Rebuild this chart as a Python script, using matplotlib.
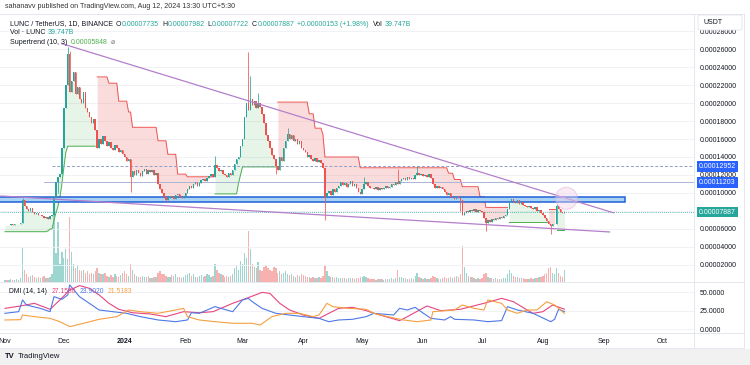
import matplotlib
matplotlib.use("Agg")
import matplotlib.pyplot as plt
import matplotlib.dates as mdates
from matplotlib.patches import Rectangle, Ellipse, FancyBboxPatch
from matplotlib.lines import Line2D
from matplotlib.transforms import blended_transform_factory
import numpy as np
import pandas as pd

plt.rcParams['font.family'] = ['Liberation Sans', 'DejaVu Sans']

# prices are written in micro-USDT (x 1e-6)
SCALE = 1e-6
start_date = '2023-11-01'
first_open = 64.0

closes = [
    # Nov 2023
    64.5, 64.0, 64.8, 65.2, 64.6, 65.5, 66.0, 65.4, 66.8, 92.0,
    85.0, 82.0, 80.0, 83.0, 79.0, 77.0, 78.0, 75.0, 76.0, 74.0,
    72.0, 73.0, 71.0, 74.0, 76.0, 96.0, 112.0, 118.0, 121.0, 150.0,
    # Dec
    195, 220, 255, 212, 225, 235, 210, 218, 205, 200,
    212, 195, 190, 185, 178, 182, 170, 150, 160, 155,
    163, 158, 152, 157, 150, 148, 153, 150, 146, 148,
    143,
    # Jan 2024
    140, 136, 138, 118, 124, 120, 126, 122, 119, 124,
    127, 121, 126, 123, 125, 120, 122, 110, 104, 100,
    96, 92, 94, 97, 95, 93, 98, 99, 96, 94,
    95,
    # Feb
    100, 104, 108, 105, 110, 112, 108, 111, 114, 116,
    113, 117, 119, 121, 118, 131, 128, 124, 126, 121,
    120, 118, 122, 120, 125, 132, 138, 140, 152,
    # Mar
    160, 185, 200, 192, 205, 198, 202, 195, 200, 196,
    188, 178, 165, 158, 150, 142, 138, 130, 126, 140,
    136, 150, 158, 166, 160, 164, 158, 160, 155, 158,
    150,
    # Apr
    148, 145, 140, 142, 138, 136, 139, 134, 137, 133,
    128, 96, 100, 102, 98, 104, 101, 106, 108, 112,
    109, 111, 107, 110, 113, 108, 110, 106, 101, 99,
    # May
    104, 110, 112, 108, 106, 105, 104, 107, 103, 105,
    104, 106, 108, 105, 107, 110, 109, 112, 110, 113,
    115, 117, 114, 118, 116, 117, 115, 120, 122, 120,
    121,
    # Jun
    119, 120, 118, 121, 117, 110, 106, 108, 105, 107,
    104, 101, 98, 100, 95, 96, 93, 97, 94, 92,
    76, 78, 80, 79, 81, 80, 82, 79, 81, 80,
    # Jul
    79, 72, 67, 70, 68, 71, 70, 72, 71, 73,
    72, 74, 76, 82, 90, 93, 91, 89, 92, 88,
    90, 87, 86, 84, 86, 83, 82, 84, 80, 81,
    78,
    # Aug
    76, 72, 69, 66, 63, 65, 66, 86, 82, 79, 77.35, 78.87,
]

# daily volume, billions of LUNC
volumes = [
    8, 6, 7, 9, 6, 8, 10, 7, 12, 115,
    40, 25, 18, 20, 22, 15, 14, 18, 12, 15,
    20, 14, 12, 18, 25, 225, 95, 200, 60, 100,
    80, 110, 75, 215, 100, 60, 45, 55, 40, 35,
    40, 30, 35, 28, 30, 25, 35, 45, 30, 28,
    25, 30, 20, 18, 22, 15, 25, 20, 18, 22, 30,
    35, 25, 20, 60, 40, 25, 20, 18, 15, 20,
    18, 15, 20, 14, 12, 15, 18, 30, 35, 28,
    25, 20, 15, 18, 22, 20, 25, 18, 15, 14, 16,
    22, 25, 30, 20, 25, 18, 15, 20, 22, 18,
    20, 25, 22, 18, 20, 60, 40, 30, 25, 22,
    18, 20, 15, 20, 25, 45, 55, 40, 70,
    60, 95, 80, 170, 110, 60, 50, 45, 65, 40,
    35, 50, 55, 45, 40, 38, 50, 45, 30, 35,
    28, 30, 35, 28, 22, 25, 20, 18, 22, 20, 25,
    22, 20, 18, 15, 14, 16, 12, 14, 15, 13,
    20, 55, 35, 20, 18, 15, 14, 16, 12, 14,
    12, 13, 11, 12, 14, 12, 10, 12, 14, 15,
    16, 20, 15, 12, 10, 9, 10, 8, 9, 10,
    9, 8, 10, 9, 11, 12, 10, 14, 40, 18,
    15, 12, 14, 10, 11, 12, 10, 20, 30, 15, 12,
    10, 12, 10, 9, 12, 20, 15, 12, 10, 11,
    12, 15, 14, 12, 18, 14, 16, 20, 15, 25,
    118, 50, 30, 20, 15, 18, 12, 10, 12, 10,
    12, 25, 30, 18, 14, 12, 10, 12, 9, 10,
    11, 12, 14, 25, 40, 30, 20, 18, 15, 14,
    12, 14, 11, 10, 9, 12, 10, 14, 12, 15, 18,
    20, 25, 30, 45, 50, 30, 25, 45, 30, 20, 18, 39.747,
]

wick_high = {
    '2023-11-10': 94, '2023-12-03': 262, '2023-12-04': 258,
    '2024-02-16': 141, '2024-03-04': 257, '2024-03-05': 230,
    '2024-03-09': 211, '2024-03-24': 172, '2024-05-02': 118,
    '2024-05-19': 127, '2024-05-29': 130, '2024-08-08': 88,
    '2024-08-12': 79.82,
}
wick_low = {
    '2023-11-28': 100, '2024-01-04': 101, '2024-01-22': 90,
    '2024-03-18': 121, '2024-04-12': 70, '2024-06-20': 80,
    '2024-07-03': 58, '2024-08-05': 54, '2024-08-12': 77.22,
}

# Supertrend (10, 3) read as runs: (direction, level, days)
st_runs = [
    ('up', 57.0, 22), ('up', 58.0, 1), ('up', 60.0, 2), ('up', 70.0, 1),
    ('up', 78.0, 1), ('up', 85.0, 1), ('up', 95.0, 1), ('up', 110.0, 1),
    ('up', 128.0, 1), ('up', 145.0, 1), ('up', 152.0, 15),
    ('down', 229.0, 6), ('down', 222.0, 5), ('down', 202.0, 5),
    ('down', 190.0, 2), ('down', 173.0, 13), ('down', 158.0, 5),
    ('down', 143.0, 5), ('down', 121.0, 5), ('down', 118.0, 14),
    ('up', 99.0, 12), ('up', 111.0, 1), ('up', 120.0, 1), ('up', 129.0, 18),
    ('down', 201.0, 16), ('down', 188.0, 3), ('down', 172.0, 4),
    ('down', 165.0, 1), ('down', 140.0, 18), ('down', 128.0, 45),
    ('down', 122.0, 3), ('down', 115.0, 4), ('down', 107.0, 9),
    ('down', 96.0, 3), ('down', 84.0, 12),
    ('up', 68.0, 20),
    ('down', 82.0, 4),
    ('up', 58.48, 5),
]

# DMI (14, 14)
adx_points = [
    ('2023-11-01', 28.3), ('2023-11-09', 31.5), ('2023-11-16', 35.1),
    ('2023-11-24', 27.0), ('2023-11-29', 39.6), ('2023-12-04', 53.1),
    ('2023-12-09', 59.0), ('2023-12-14', 55.4), ('2023-12-19', 46.4),
    ('2023-12-24', 35.1), ('2023-12-29', 27.0), ('2024-01-05', 22.4),
    ('2024-01-14', 20.7), ('2024-01-22', 17.1), ('2024-01-31', 23.8),
    ('2024-02-08', 22.4), ('2024-02-15', 23.8), ('2024-02-25', 35.1),
    ('2024-03-03', 41.8), ('2024-03-11', 49.9), ('2024-03-15', 48.5),
    ('2024-03-20', 35.1), ('2024-03-25', 26.1), ('2024-04-01', 19.3),
    ('2024-04-09', 14.8), ('2024-04-14', 21.6), ('2024-04-19', 28.3),
    ('2024-04-26', 29.7), ('2024-05-03', 25.2), ('2024-05-07', 21.6),
    ('2024-05-16', 14.8), ('2024-05-20', 11.7), ('2024-05-24', 17.1),
    ('2024-06-03', 31.5), ('2024-06-10', 25.2), ('2024-06-20', 27.0),
    ('2024-07-02', 35.1), ('2024-07-11', 41.8), ('2024-07-17', 37.3),
    ('2024-07-24', 26.1), ('2024-07-27', 21.6), ('2024-08-01', 23.8),
    ('2024-08-06', 32.8), ('2024-08-12', 27.158),
]
plus_di_points = [
    ('2023-11-01', 21.6), ('2023-11-08', 23.8), ('2023-11-10', 39.6),
    ('2023-11-12', 32.8), ('2023-11-19', 28.3), ('2023-11-24', 23.8),
    ('2023-11-26', 44.1), ('2023-11-30', 40.5), ('2023-12-03', 46.4),
    ('2023-12-04', 59.9), ('2023-12-09', 44.1), ('2023-12-14', 35.1),
    ('2023-12-19', 26.1), ('2023-12-26', 23.8), ('2024-01-02', 21.6),
    ('2024-01-09', 17.1), ('2024-01-18', 12.6), ('2024-01-27', 10.3),
    ('2024-02-02', 12.6), ('2024-02-04', 22.4), ('2024-02-08', 21.6),
    ('2024-02-16', 30.6), ('2024-02-25', 23.8), ('2024-03-01', 39.6),
    ('2024-03-04', 41.8), ('2024-03-06', 37.3), ('2024-03-11', 28.3),
    ('2024-03-18', 21.6), ('2024-03-25', 19.3), ('2024-04-01', 17.1),
    ('2024-04-09', 14.8), ('2024-04-14', 10.3), ('2024-04-19', 12.6),
    ('2024-04-26', 13.5), ('2024-05-03', 17.1), ('2024-05-07', 21.6),
    ('2024-05-17', 19.3), ('2024-05-20', 28.3), ('2024-05-24', 26.1),
    ('2024-05-28', 29.7), ('2024-05-31', 23.8), ('2024-06-05', 14.8),
    ('2024-06-12', 12.6), ('2024-06-15', 17.1), ('2024-06-17', 13.5),
    ('2024-06-27', 12.6), ('2024-07-04', 10.3), ('2024-07-11', 11.7),
    ('2024-07-14', 30.6), ('2024-07-19', 26.1), ('2024-07-27', 21.6),
    ('2024-08-05', 10.3), ('2024-08-07', 13.5), ('2024-08-09', 27.0),
    ('2024-08-12', 23.902),
]
minus_di_points = [
    ('2023-11-01', 12.6), ('2023-11-09', 13.0), ('2023-11-10', 19.3),
    ('2023-11-16', 17.1), ('2023-11-24', 14.8), ('2023-11-29', 10.3),
    ('2023-12-04', 3.6), ('2023-12-11', 8.1), ('2023-12-19', 13.5),
    ('2023-12-28', 17.1), ('2024-01-03', 26.1), ('2024-01-09', 23.8),
    ('2024-01-18', 21.6), ('2024-01-27', 26.1), ('2024-01-31', 28.3),
    ('2024-02-02', 17.1), ('2024-02-08', 12.6), ('2024-02-16', 10.3),
    ('2024-02-25', 8.1), ('2024-03-06', 8.1), ('2024-03-10', 5.8),
    ('2024-03-16', 17.1), ('2024-03-23', 21.6), ('2024-03-30', 21.6),
    ('2024-04-06', 17.1), ('2024-04-09', 19.3), ('2024-04-13', 35.1),
    ('2024-04-16', 30.6), ('2024-04-24', 28.3), ('2024-05-03', 27.0),
    ('2024-05-07', 21.6), ('2024-05-14', 17.1), ('2024-05-22', 12.6),
    ('2024-05-29', 10.3), ('2024-06-05', 12.6), ('2024-06-06', 23.8),
    ('2024-06-17', 26.1), ('2024-06-21', 32.8), ('2024-06-27', 28.3),
    ('2024-07-02', 26.1), ('2024-07-04', 39.6), ('2024-07-11', 35.1),
    ('2024-07-14', 26.1), ('2024-07-19', 21.6), ('2024-07-24', 26.1),
    ('2024-07-29', 26.1), ('2024-08-03', 37.3), ('2024-08-07', 32.8),
    ('2024-08-12', 21.518),
]

month_ticks = ['2023-11-01', '2023-12-01', '2024-01-01', '2024-02-01', '2024-03-01',
               '2024-04-01', '2024-05-01', '2024-06-01', '2024-07-01', '2024-08-01',
               '2024-09-01', '2024-10-01']
month_labels = ['Nov', 'Dec', '2024', 'Feb', 'Mar', 'Apr', 'May', 'Jun', 'Jul', 'Aug', 'Sep', 'Oct']
price_ticks = [20, 40, 60, 80, 100, 120, 140, 160, 180, 200, 220, 240, 260, 280]
dmi_ticks = [0, 25, 50]

# drawings on the chart
level_dashed = 129.52
level_solid = 112.03
last_price = 78.87
zone_low, zone_high = 90.0, 95.6
upper_trend = [('2023-11-30', 266.0), ('2024-09-06', 78.0)]
lower_trend = [('2023-10-30', 96.7), ('2024-09-04', 56.7)]

UP, DOWN = '#26a69a', '#ef5350'
DARK = '#131722'
GRID = '#eef0f4'
BORDER = '#e0e3eb'
ADX_C, PDI_C, MDI_C = '#e8457f', '#4f78e6', '#f4a041'

W, H = 750, 365
fig = plt.figure(figsize=(W / 100, H / 100), dpi=100)
fig.patch.set_facecolor('white')
renderer = fig.canvas.get_renderer()


def rect(x0, y0, x1, y1):
    return [x0 / W, 1 - y1 / H, (x1 - x0) / W, (y1 - y0) / H]


def fx(x):
    return x / W


def fy(y):
    return 1 - y / H


def dnum(s):
    return mdates.date2num(pd.Timestamp(s))


def write_row(x, y, pieces, size):
    # place coloured pieces one after another, measuring each one
    for txt, col, gap in pieces:
        t = fig.text(fx(x), fy(y), txt, fontsize=size, color=col, va='center')
        x += t.get_window_extent(renderer=renderer).width + gap


ax_v = fig.add_axes(rect(0, 14, 694, 282))
ax_p = fig.add_axes(rect(0, 14, 694, 282), sharex=ax_v)
ax_d = fig.add_axes(rect(0, 282, 694, 333), sharex=ax_v)
ax_p.patch.set_visible(False)
ax_v.patch.set_visible(False)

dates = pd.date_range(start_date, periods=len(closes), freq='D')
xs = mdates.date2num(dates)
t0 = dnum(start_date)
ax_v.set_xlim(t0 - 2.5, t0 + 351.0)

c = np.array(closes, dtype=float)
o = np.array([first_open] + closes[:-1], dtype=float)
hi = np.maximum(o, c)
lo = np.minimum(o, c)
for d, v in wick_high.items():
    hi[(pd.Timestamp(d) - dates[0]).days] = v
for d, v in wick_low.items():
    lo[(pd.Timestamp(d) - dates[0]).days] = v
up = c >= o
colors = np.where(up, UP, DOWN)

# volume (overlay at bottom of price pane)
ax_v.bar(xs, volumes, width=0.7, color=colors, alpha=0.45, linewidth=0)
ax_v.set_ylim(0, 890)
ax_v.axis('off')

# grid
for t in price_ticks:
    ax_p.axhline(t, color=GRID, lw=0.6, zorder=0)
for t in dmi_ticks:
    ax_d.axhline(t, color=GRID, lw=0.6, zorder=0)

# supertrend
st_val = np.repeat([r[1] for r in st_runs], [r[2] for r in st_runs])
st_up = np.repeat([r[0] == 'up' for r in st_runs], [r[2] for r in st_runs])
mid = (o + c) / 2
cuts = [0] + list(np.flatnonzero(np.diff(st_up.astype(int))) + 1) + [len(c)]
for a, b in zip(cuts[:-1], cuts[1:]):
    if st_up[a]:
        col, alp = '#4caf50', 0.13
    else:
        col, alp = '#ef5350', 0.2
    ax_p.fill_between(xs[a:b], st_val[a:b], mid[a:b], color=col, alpha=alp, linewidth=0, zorder=1)
    ax_p.plot(xs[a:b], st_val[a:b], color=col, lw=0.7, zorder=2)

# horizontal levels and zone
xr = t0 + 400
ax_p.plot([dnum('2023-11-25'), xr], [level_dashed] * 2, color='#8ea0c6', lw=0.7, dashes=(3, 2), zorder=2)
ax_p.plot([dnum('2023-11-21'), xr], [level_solid] * 2, color='#a9b5d5', lw=0.7, zorder=2)
ax_p.plot([t0 - 10, xr], [last_price] * 2, color=UP, lw=0.6, dashes=(1, 1.5), zorder=2)
ax_p.add_patch(Rectangle((t0 - 40, zone_low), dnum('2024-09-12') - (t0 - 40), zone_high - zone_low,
                         facecolor='#a9d3f5', edgecolor='#2160d8', lw=1.1, zorder=3))

# candles
ax_p.vlines(xs, lo, hi, colors=colors, lw=0.55, zorder=4)
ax_p.bar(xs, np.maximum(np.abs(c - o), 0.6), bottom=np.minimum(o, c), width=0.75,
         color=colors, linewidth=0, zorder=5)

# trend lines and circle
for pts in (upper_trend, lower_trend):
    ax_p.plot([dnum(pts[0][0]), dnum(pts[1][0])], [pts[0][1], pts[1][1]],
              color='#b47fcb', lw=0.9, zorder=6)
ax_p.add_patch(Ellipse((dnum('2024-08-13'), 94.1), 11.2, 24.4, facecolor='#f1d3ec',
                       edgecolor='#d9a3d3', lw=0.7, alpha=0.45, zorder=6))

ax_p.set_ylim(1.1, 298.9)
ax_p.yaxis.tick_right()
ax_p.set_yticks(price_ticks)
ax_p.set_yticklabels([f"{t * SCALE:.8f}" for t in price_ticks])
ax_p.tick_params(axis='y', length=0, pad=4.3, labelsize=5, labelcolor=DARK)
ax_p.tick_params(axis='x', length=0, labelbottom=False)
for s in ax_p.spines.values():
    s.set_visible(False)

# right-axis price labels
tr = blended_transform_factory(ax_p.transAxes, ax_p.transData)
for val, bg in ((level_dashed, '#2962ff'), (level_solid, '#2962ff'), (last_price, UP)):
    ax_p.text(1.0075, val, f"{val * SCALE:.8f}", transform=tr, fontsize=5, color='white',
              va='center', ha='left', clip_on=False, zorder=10,
              bbox=dict(boxstyle='square,pad=0.28', fc=bg, ec='none'))

# DMI pane
ax_d.plot([dnum(d) for d, _ in adx_points], [v for _, v in adx_points], color=ADX_C, lw=0.8)
ax_d.plot([dnum(d) for d, _ in plus_di_points], [v for _, v in plus_di_points], color=PDI_C, lw=0.8)
ax_d.plot([dnum(d) for d, _ in minus_di_points], [v for _, v in minus_di_points], color=MDI_C, lw=0.8)
ax_d.set_ylim(-5, 63.9)
ax_d.yaxis.tick_right()
ax_d.set_yticks(dmi_ticks)
ax_d.set_yticklabels([f"{t:.4f}" for t in dmi_ticks])
ax_d.tick_params(axis='y', length=0, pad=4.3, labelsize=5, labelcolor=DARK)
ax_d.set_xticks([dnum(m) for m in month_ticks])
ax_d.set_xticklabels(month_labels)
ax_d.tick_params(axis='x', length=0, pad=3.5, labelsize=5, labelcolor=DARK)
for lab in ax_d.get_xticklabels():
    if lab.get_text() == '2024':
        lab.set_fontweight('bold')
for s in ax_d.spines.values():
    s.set_visible(False)

# frame lines
for y in (14, 282, 333, 348):
    fig.add_artist(Line2D([0, fx(744)], [fy(y), fy(y)], color=BORDER, lw=0.6))
for x in (694, 744):
    fig.add_artist(Line2D([fx(x), fx(x)], [fy(14), fy(348)], color=BORDER, lw=0.6))
fig.add_artist(Rectangle((0, 0), 1, fy(348.5), transform=fig.transFigure, facecolor='#f1f1f1',
                         edgecolor='none', zorder=0))
fig.add_artist(FancyBboxPatch((fx(698), fy(30)), fx(742) - fx(698), fy(15) - fy(30),
                              boxstyle='round,pad=0,rounding_size=0.004', transform=fig.transFigure,
                              facecolor='white', edgecolor=BORDER, lw=0.6, zorder=5))
fig.text(fx(703), fy(22.5), 'USDT', fontsize=5, color=DARK, va='center', zorder=6)

# header and legends
fig.text(fx(5), fy(7), 'sahanavv published on TradingView.com, Aug 12, 2024 13:30 UTC+5:30',
         fontsize=5.1, color='#333333', va='center')
write_row(9.5, 24, [
    ('LUNC / TetherUS, 1D, BINANCE', DARK, 3.5), ('O', DARK, 0.4), ('0.00007735', UP, 3),
    ('H', DARK, 0.4), ('0.00007982', UP, 3), ('L', DARK, 0.4), ('0.00007722', UP, 3),
    ('C', DARK, 0.4), ('0.00007887', UP, 3), ('+0.00000153 (+1.98%)', UP, 4),
    ('Vol', DARK, 1.5), ('39.747B', UP, 0),
], 5.0)
write_row(9.5, 32.5, [('Vol · LUNC', DARK, 2.5), ('39.747B', UP, 0)], 5.0)
write_row(9.5, 42, [('Supertrend (10, 3)', DARK, 3.5), ('0.00005848', '#4caf50', 3.5),
                    ('⌀', '#777777', 0)], 5.0)
write_row(9.3, 291.7, [('DMI (14, 14)', DARK, 4), ('27.1580', ADX_C, 4), ('23.9020', PDI_C, 4),
                       ('21.5183', MDI_C, 0)], 4.9)

# footer logo
fig.text(fx(5), fy(357), 'TV', fontsize=5.5, color=DARK, fontweight='bold', va='center')
fig.text(fx(18), fy(357), 'TradingView', fontsize=5.5, color=DARK, va='center')

fig.savefig('out.png', dpi=100, facecolor=fig.get_facecolor())
